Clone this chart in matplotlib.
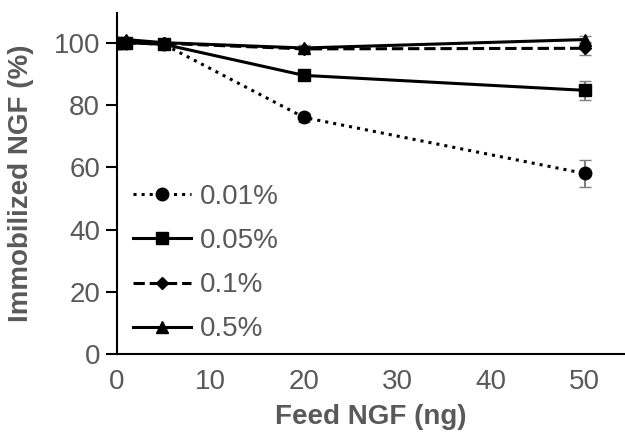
import numpy as np
import matplotlib
matplotlib.use('Agg')
import matplotlib.pyplot as plt

plt.rcParams['font.family'] = ['Liberation Sans', 'DejaVu Sans']

feed = [0, 1, 5, 20, 50]
s001 = [100, 100, 99.5, 76, 58]
e001 = [0.5, 0.5, 0.8, 1.5, 4.2]
s005 = [100, 100, 99.5, 89.5, 84.7]
e005 = [0.5, 0.5, 0.8, 1.2, 3.0]
s01 = [100, 100.5, 99.8, 98, 98.2]
e01 = [0.5, 0.5, 0.8, 1.0, 2.0]
s05 = [100, 101, 100, 98.3, 101]
e05 = [0.5, 0.5, 0.8, 1.0, 1.0]

grey = '#595959'

fig = plt.figure(figsize=(6.25, 4.41), dpi=100)
ax = fig.add_axes([0.187, 0.197, 0.813, 0.774])

series = [
    (s001, e001, ':', 'o', 9, '0.01%'),
    (s005, e005, '-', 's', 9, '0.05%'),
    (s01, e01, '--', 'D', 6, '0.1%'),
    (s05, e05, '-', '^', 9, '0.5%'),
]
for y, e, ls, mk, ms, lab in series:
    ax.errorbar(feed, y, yerr=e, color='black', ls=ls, lw=2.2, marker=mk, ms=ms,
                ecolor='#7f7f7f', elinewidth=1.5, capsize=4, label=lab)

ax.set_xlim(0, 54.3)
ax.set_ylim(0, 109.6)
ax.set_xticks([0, 10, 20, 30, 40, 50])
ax.set_yticks([0, 20, 40, 60, 80, 100])
ax.spines['top'].set_visible(False)
ax.spines['right'].set_visible(False)
ax.spines['left'].set_linewidth(1.5)
ax.spines['bottom'].set_linewidth(1.5)
ax.tick_params(axis='y', direction='out', length=8, width=1.5, labelsize=20,
               labelcolor=grey, pad=4)
ax.tick_params(axis='x', length=0, labelsize=20, labelcolor=grey, pad=11)

ax.set_xlabel('Feed NGF (ng)', fontsize=20, fontweight='bold', color=grey,
              labelpad=6)
ax.set_ylabel('Immobilized NGF (%)', fontsize=20, fontweight='bold', color=grey,
              labelpad=14)

handles, labels = ax.get_legend_handles_labels()
handles = [h[0] for h in handles]
leg = ax.legend(handles, labels, loc='lower left', bbox_to_anchor=(0.01, 0.002),
                frameon=False, fontsize=20, handlelength=2.1, labelspacing=0.65,
                handletextpad=0.3, borderaxespad=0.0)
for t in leg.get_texts():
    t.set_color(grey)

fig.savefig('out.png', dpi=100)
